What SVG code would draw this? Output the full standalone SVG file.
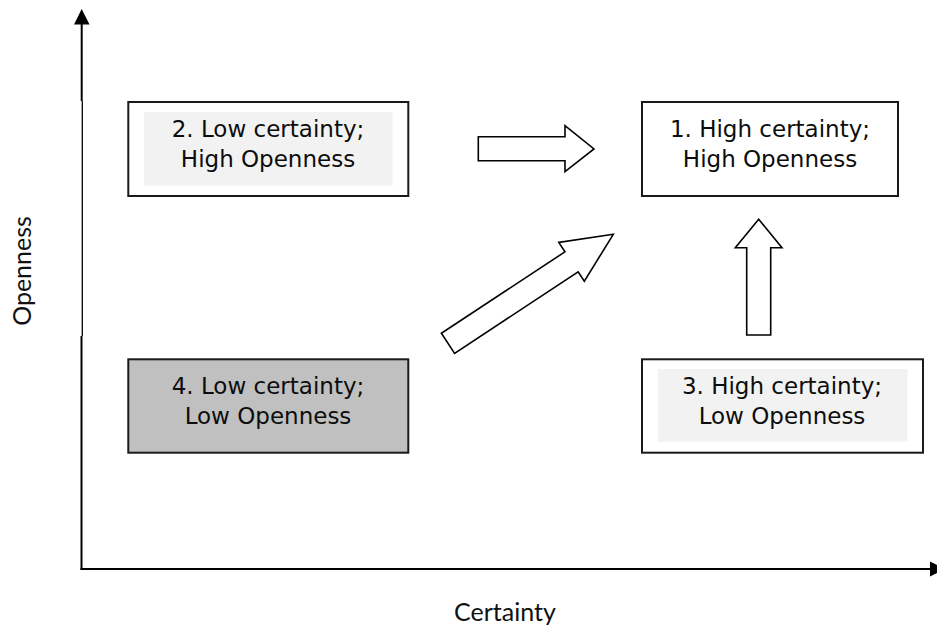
<svg xmlns="http://www.w3.org/2000/svg" width="937" height="630" viewBox="0 0 937 630">
<style>
.box{fill:#ffffff;stroke:#1a1a1a;stroke-width:2}
.dark{fill:#c0c0c0}
.inner{fill:#f2f2f2;stroke:none}
.lbl{font-family:"DejaVu Sans","Noto Sans",sans-serif;font-size:23px;fill:#0d0d0d;text-anchor:middle}
.axl{font-family:Lato,"Open Sans",sans-serif;font-size:25px;fill:#111;text-anchor:middle}
.axis{stroke:#000;fill:none}
.head{fill:#000;stroke:none}
.blk{fill:#ffffff;stroke:#000;stroke-width:1.6;stroke-linejoin:miter}
</style>
<rect width="937" height="630" fill="#ffffff"/>
<g id="axes">
  <line class="axis" x1="81.7" y1="22" x2="81.7" y2="101" stroke-width="2"/>
  <line class="axis" x1="82.3" y1="101" x2="82.3" y2="336" stroke-width="1.3"/>
  <line class="axis" x1="81.5" y1="336" x2="81.5" y2="570" stroke-width="2"/>
  <polygon class="head" points="81.7,9 89.5,24.5 74,24.5"/>
  <line class="axis" x1="80.5" y1="569" x2="931" y2="569" stroke-width="2"/>
  <polygon class="head" points="945,569 930,561.5 930,576.5"/>
  <text class="axl" x="505" y="621">Certainty</text>
  <text class="axl" transform="translate(31,271) rotate(-90)">Openness</text>
</g>
<g id="connectors">
  <polygon class="blk" points="478.3,136.7 565,136.7 565,125.7 594,149 565,171.7 565,160.7 478.3,160.7"/>
  <polygon class="blk" points="746.7,335 746.7,247.7 735.3,247.7 758.7,219.3 782,247.7 770.7,247.7 770.7,335"/>
  <polygon class="blk" transform="translate(448,343.3) rotate(-33.4)" points="0,-12 148,-12 148,-23.2 198,0 148,23.2 148,12 0,12"/>
</g>
<g id="node1">
  <rect class="box" x="642" y="102" width="256" height="94"/>
  <text class="lbl" x="770" y="137">1. High certainty;</text>
  <text class="lbl" x="770" y="167">High Openness</text>
</g>
<g id="node2">
  <rect class="box" x="128.3" y="102" width="280" height="94"/>
  <rect class="inner" x="144" y="112" width="248.6" height="73.7"/>
  <text class="lbl" x="268" y="137">2. Low certainty;</text>
  <text class="lbl" x="268" y="167">High Openness</text>
</g>
<g id="node3">
  <rect class="box" x="642" y="359.3" width="281" height="93.4"/>
  <rect class="inner" x="657.7" y="369" width="249.6" height="72.7"/>
  <text class="lbl" x="782" y="394">3. High certainty;</text>
  <text class="lbl" x="782" y="424">Low Openness</text>
</g>
<g id="node4">
  <rect class="box dark" x="128.3" y="359.3" width="280" height="93.4"/>
  <text class="lbl" x="268" y="394">4. Low certainty;</text>
  <text class="lbl" x="268" y="424">Low Openness</text>
</g>
</svg>
